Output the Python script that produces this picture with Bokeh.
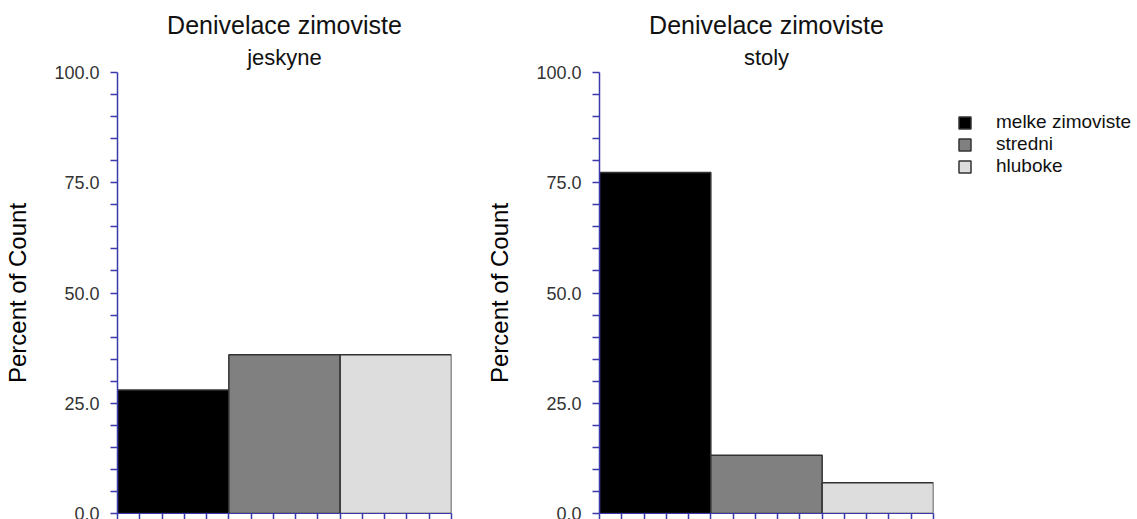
from bokeh.plotting import figure
from bokeh.models import (ColumnDataSource, Range1d, FixedTicker, PrintfTickFormatter,
                          Title, Legend, LegendItem)
from bokeh.layouts import row
from bokeh.embed import file_html
from bokeh.resources import INLINE

# Percent of count per depth class, for each wintering site type
categories = ["melke zimoviste", "stredni", "hluboke"]
colors = ["#000000", "#808080", "#dddddd"]
jeskyne_pct = [28.0, 36.0, 36.0]
stoly_pct = [77.3, 13.2, 7.0]
panel_titles = ["jeskyne", "stoly"]
main_title = "Denivelace zimoviste"
y_ticks = [0, 25, 50, 75, 100]
y_minor = [v for v in range(0, 101, 5) if v % 25]

FONT = "Liberation Sans"
AXIS_BLUE = "#3a3aac"


def make_panel(values, subtitle, left_border, right_border):
    src = ColumnDataSource(dict(
        x=[i + 0.5 for i in range(len(categories))],
        top=values,
        color=colors,
        cat=categories,
    ))
    p = figure(output_backend="svg", toolbar_location=None,
               frame_width=334, frame_height=441,
               x_range=Range1d(0, len(categories)), y_range=Range1d(0, 100),
               min_border_left=left_border, min_border_right=right_border,
               min_border_top=72, min_border_bottom=0,
               background_fill_color="white", border_fill_color="white")
    p.outline_line_color = None
    p.grid.visible = False
    r = p.vbar(x="x", top="top", width=1.0, bottom=0, source=src,
               fill_color="color", line_color="#333333", line_width=1.5)

    # subtitle first (closest to the frame), then the main title above it
    p.add_layout(Title(text=subtitle, align="center", text_font=FONT,
                       text_font_size="22px", text_font_style="normal",
                       text_color="#111111", standoff=5), "above")
    p.add_layout(Title(text=main_title, align="center", text_font=FONT,
                       text_font_size="25px", text_font_style="normal",
                       text_color="#111111", standoff=4), "above")

    ya = p.yaxis[0]
    ya.ticker = FixedTicker(ticks=y_ticks, minor_ticks=y_minor)
    ya.formatter = PrintfTickFormatter(format="%.1f")
    ya.axis_label = "Percent of Count"
    ya.axis_label_text_font = FONT
    ya.axis_label_text_font_size = "24px"
    ya.axis_label_text_font_style = "normal"
    ya.axis_label_text_color = "#000000"
    ya.axis_label_standoff = 20
    ya.major_label_text_font = FONT
    ya.major_label_text_font_size = "18px"
    ya.major_label_text_color = "#333333"
    ya.major_label_standoff = 11
    ya.axis_line_color = AXIS_BLUE
    ya.axis_line_width = 1.5
    ya.major_tick_line_color = AXIS_BLUE
    ya.minor_tick_line_color = AXIS_BLUE
    ya.major_tick_line_width = 1.5
    ya.minor_tick_line_width = 1.5
    ya.major_tick_out = 7
    ya.major_tick_in = 0
    ya.minor_tick_out = 7
    ya.minor_tick_in = 0

    xa = p.xaxis[0]
    x_ticks = [i / 5 for i in range(5 * len(categories) + 1)]
    xa.ticker = FixedTicker(ticks=x_ticks)
    xa.major_label_overrides = {t: "" for t in x_ticks}
    xa.major_label_standoff = 0
    xa.axis_line_color = AXIS_BLUE
    xa.major_tick_line_color = AXIS_BLUE
    xa.major_tick_line_width = 1.5
    xa.minor_tick_line_color = None
    xa.major_tick_out = 6
    xa.major_tick_in = 0
    return p, r


p1, r1 = make_panel(jeskyne_pct, panel_titles[0], 117, 31)
p2, r2 = make_panel(stoly_pct, panel_titles[1], 117, 204)

legend = Legend(
    items=[LegendItem(label=c, renderers=[r2], index=i) for i, c in enumerate(categories)],
    location=(24, 336),
    orientation="vertical",
    glyph_width=15, glyph_height=15,
    label_standoff=24, label_height=22, spacing=0,
    padding=0, margin=0,
    label_text_font=FONT, label_text_font_size="19px", label_text_color="#111111",
    border_line_color=None, background_fill_alpha=0,
)
p2.add_layout(legend, "right")

layout = row(p1, p2)
open("out.html", "w").write(file_html(layout, INLINE))
